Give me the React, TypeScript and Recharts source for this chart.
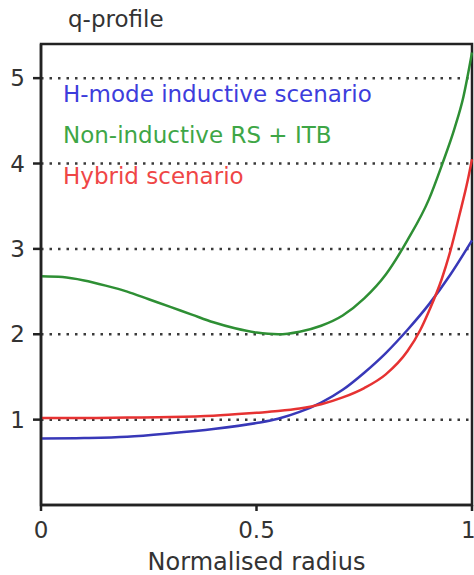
import React from 'react';
import { LineChart, Line, XAxis, YAxis, ReferenceLine, ReferenceArea, Legend } from 'recharts';

const FONT = '"DejaVu Sans", Arial, sans-serif';

// normalised radius / q value pairs for each scenario
const hmodeRadius = [0, 0.1, 0.2, 0.3, 0.4, 0.5, 0.55, 0.6, 0.65, 0.7, 0.75, 0.8, 0.85, 0.9, 0.95, 1.0];
const hmodeQ = [0.78, 0.785, 0.8, 0.84, 0.89, 0.96, 1.01, 1.09, 1.2, 1.35, 1.55, 1.78, 2.05, 2.35, 2.7, 3.1];

const rsItbRadius = [0, 0.05, 0.1, 0.15, 0.2, 0.25, 0.3, 0.35, 0.4, 0.45, 0.5, 0.55, 0.6, 0.65, 0.7, 0.75, 0.8, 0.85, 0.9, 0.93, 0.96, 0.98, 1.0];
const rsItbQ = [2.68, 2.67, 2.63, 2.57, 2.5, 2.41, 2.32, 2.23, 2.14, 2.07, 2.02, 2.0, 2.03, 2.1, 2.22, 2.42, 2.7, 3.1, 3.58, 3.98, 4.42, 4.78, 5.3];

const hybridRadius = [0, 0.1, 0.2, 0.3, 0.4, 0.5, 0.55, 0.6, 0.65, 0.7, 0.75, 0.8, 0.85, 0.88, 0.9, 0.93, 0.95, 0.97, 0.99, 1.0];
const hybridQ = [1.02, 1.02, 1.025, 1.03, 1.045, 1.08, 1.1, 1.13, 1.18, 1.26, 1.37, 1.53, 1.8, 2.05, 2.27, 2.65, 2.98, 3.38, 3.8, 4.05];

const xTicks = [0, 0.5, 1];
const yTicks = [1, 2, 3, 4, 5];

const toRows = (radius: number[], q: number[]) => radius.map((r, i) => ({ r, q: q[i] }));

const series = [
  { name: 'H-mode inductive scenario', data: toRows(hmodeRadius, hmodeQ), stroke: '#3838b8', text: '#3d3ddc' },
  { name: 'Non-inductive RS + ITB', data: toRows(rsItbRadius, rsItbQ), stroke: '#2e8f34', text: '#3ea646' },
  { name: 'Hybrid scenario', data: toRows(hybridRadius, hybridQ), stroke: '#e63232', text: '#ef4646' },
];

// legend keeps the series order instead of recharts' sorted payload
const renderLegend = (props: any) => {
  const names = new Set((props.payload || []).map((p: any) => p.value));
  return (
    <div style={{ fontFamily: FONT, fontSize: 23, lineHeight: '41px' }}>
      {series
        .filter((s) => names.has(s.name))
        .map((s) => (
          <div key={s.name} style={{ color: s.text, whiteSpace: 'nowrap' }}>
            {s.name}
          </div>
        ))}
    </div>
  );
};

export default function App() {
  return (
    <div style={{ position: 'absolute', left: 0, top: 0, width: 474, height: 575, background: '#fff' }}>
      <div
        style={{
          position: 'absolute',
          left: 68,
          top: 8,
          fontFamily: FONT,
          fontSize: 23,
          lineHeight: '23px',
          color: '#333',
          zIndex: 2,
        }}
      >
        q-profile
      </div>
      <LineChart width={474} height={575} margin={{ top: 44, right: 2, bottom: 0, left: 0 }} style={{ fontFamily: FONT }}>
        <XAxis
          dataKey="r"
          type="number"
          domain={[0, 1]}
          ticks={xTicks}
          tickFormatter={(v: number) => String(v)}
          height={70}
          stroke="#222"
          tickSize={6}
          tickMargin={11}
          tick={{ fontSize: 23, fill: '#333', fontFamily: FONT }}
          axisLine={{ stroke: '#222', strokeWidth: 2.5 }}
          tickLine={{ stroke: '#222', strokeWidth: 2.5 }}
          allowDuplicatedCategory={false}
          label={{ value: 'Normalised radius', position: 'insideBottom', offset: 5, fill: '#333', fontSize: 24, fontFamily: FONT }}
        />
        <YAxis
          type="number"
          domain={[0, 5.4]}
          ticks={yTicks}
          width={41}
          stroke="#222"
          tickSize={8}
          tickMargin={8}
          tick={{ fontSize: 23, fill: '#333', fontFamily: FONT }}
          axisLine={{ stroke: '#222', strokeWidth: 2.5 }}
          tickLine={{ stroke: '#222', strokeWidth: 2.5 }}
        />
        {yTicks.map((y) => (
          <ReferenceLine key={y} y={y} stroke="#3a3a3a" strokeWidth={2.5} strokeDasharray="2.5 6" />
        ))}
        <ReferenceArea x1={0} x2={1} y1={0} y2={5.4} fill="none" stroke="#222" strokeWidth={2.5} ifOverflow="visible" />
        {series.map((s) => (
          <Line
            key={s.name}
            data={s.data}
            dataKey="q"
            name={s.name}
            type="monotone"
            stroke={s.stroke}
            strokeWidth={2.5}
            dot={false}
            isAnimationActive={false}
          />
        ))}
        <Legend
          layout="horizontal"
          align="center"
          verticalAlign="middle"
          content={renderLegend}
          wrapperStyle={{ top: 74, left: 63, width: 'auto', height: 'auto' }}
        />
      </LineChart>
    </div>
  );
}
